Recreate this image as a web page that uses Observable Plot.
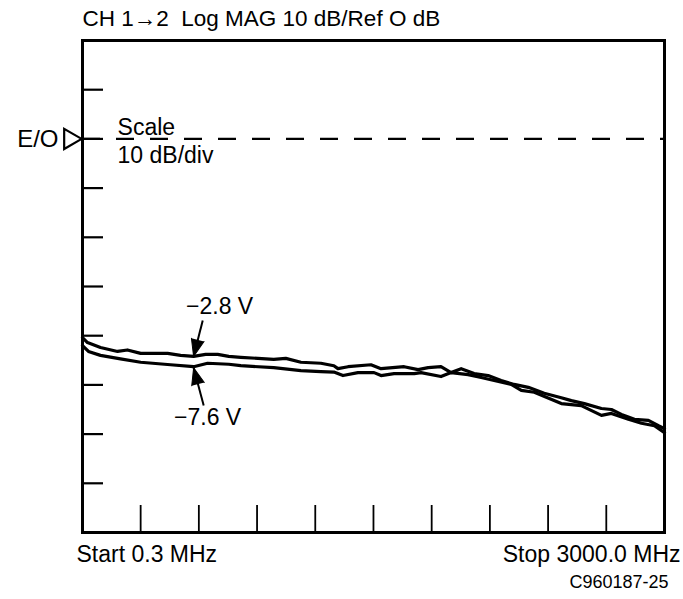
<!DOCTYPE html>
<html>
<head>
<meta charset="utf-8">
<script src="https://cdn.jsdelivr.net/npm/d3@7"></script>
<script src="https://cdn.jsdelivr.net/npm/@observablehq/plot@0.6"></script>
<style>
  html, body { margin: 0; padding: 0; background: #fff; }
</style>
</head>
<body>
<div id="chart"></div>
<script>
// ---- Data (frequency in MHz, magnitude in dB) ----
const freqUpper = [0.3, 26, 93, 181, 232, 300, 439, 506, 573, 635, 697, 754, 816, 986, 1048, 1126, 1229, 1296, 1317, 1369, 1487, 1539, 1658, 1730, 1782, 1848, 1900, 1952, 2019, 2091, 2158, 2225, 2298, 2380, 2468, 2520, 2587, 2675, 2726, 2778, 2845, 2917, 2969, 3000];
const dbUpper = [-40.4, -41.4, -42.4, -43.2, -42.9, -43.6, -43.6, -44.0, -44.2, -43.8, -43.8, -44.2, -44.4, -44.8, -44.6, -45.4, -45.6, -46.1, -46.7, -46.3, -45.9, -46.7, -46.3, -46.9, -46.5, -46.3, -47.5, -46.7, -47.7, -48.1, -49.1, -49.9, -50.5, -51.7, -52.6, -53.2, -53.8, -54.8, -55.0, -56.0, -57.0, -57.2, -58.3, -58.9];

const freqLower = [0.3, 31, 93, 196, 300, 454, 573, 645, 754, 816, 986, 1126, 1229, 1296, 1343, 1420, 1503, 1539, 1606, 1710, 1745, 1848, 1900, 1988, 2055, 2122, 2210, 2262, 2329, 2468, 2571, 2675, 2726, 2814, 2881, 2948, 3000];
const dbLower = [-42.0, -43.2, -44.0, -44.7, -45.4, -45.9, -46.3, -45.6, -45.8, -46.1, -46.5, -47.1, -47.3, -47.4, -48.1, -47.5, -47.5, -48.1, -47.7, -47.7, -47.5, -48.3, -47.5, -47.9, -48.5, -49.1, -49.9, -51.1, -51.5, -53.8, -54.2, -56.2, -55.8, -57.0, -57.8, -58.3, -59.7];

// Axis ticks
const xTicks = [300, 600, 900, 1200, 1500, 1800, 2100, 2400, 2700];
const yTicks = [10, 0, -10, -20, -30, -40, -50, -60, -70];
const refLevel = [0];

// Texts
const titleText = "CH 1\u21922  Log MAG 10 dB/Ref O dB";
const startText = "Start 0.3 MHz";
const stopText = "Stop 3000.0 MHz";
const figId = "C960187-25";
const refLabel = "E/O";
const scaleTop = "Scale";
const scaleBottom = "10 dB/div";

// Annotations (MHz, dB)
const annLabels = ["\u22122.8 V", "\u22127.6 V"];
const annLabelX = [707, 645];
const annLabelY = [-34.0, -56.7];
const arrowTailX = [620, 625];
const arrowTailY = [-36.9, -54.2];
const arrowTipX = [573, 573];
const arrowTipY = [-44.2, -46.5];
const arrowAngle = [194, 345];

// ---- Build tables ----
const upper = freqUpper.map((f, i) => ({f, db: dbUpper[i]}));
const lower = freqLower.map((f, i) => ({f, db: dbLower[i]}));
const ann = annLabels.map((t, i) => ({
  t, lx: annLabelX[i], ly: annLabelY[i],
  x1: arrowTailX[i], y1: arrowTailY[i], x2: arrowTipX[i], y2: arrowTipY[i], a: arrowAngle[i]
}));

const font = "'Liberation Sans', Arial, Helvetica, sans-serif";

const chart = Plot.plot({
  width: 683,
  height: 599,
  marginTop: 40,
  marginBottom: 67,
  marginLeft: 82,
  marginRight: 19,
  style: {fontFamily: font, background: "#fff", color: "#000", overflow: "visible"},
  x: {type: "linear", domain: [0.3, 3000], axis: null},
  y: {type: "linear", domain: [-80, 20], axis: null},
  marks: [
    // reference dashed line
    Plot.ruleY(refLevel, {stroke: "#000", strokeWidth: 2.4, strokeDasharray: "18,16", strokeDashoffset: -34}),
    // inner ticks on left
    Plot.axisY({ticks: yTicks, anchor: "left", tickSize: 21, dx: 21, strokeWidth: 2.2, tickFormat: () => "", label: null}),
    // inner ticks on bottom
    Plot.axisX({ticks: xTicks, anchor: "bottom", tickSize: 27, dy: -27, strokeWidth: 1.8, tickFormat: () => "", label: null}),
    // traces
    Plot.line(upper, {x: "f", y: "db", stroke: "#000", strokeWidth: 3.2, strokeLinejoin: "round"}),
    Plot.line(lower, {x: "f", y: "db", stroke: "#000", strokeWidth: 3.2, strokeLinejoin: "round"}),
    // frame
    Plot.frame({stroke: "#000", strokeWidth: 3}),
    // reference marker
    Plot.dot(refLevel, {y: d => d, frameAnchor: "left", symbol: "triangle", rotate: 90, r: 7.5, dx: -12.5, fill: "#fff", stroke: "#000", strokeWidth: 2.2}),
    Plot.text([refLabel], {y: refLevel, frameAnchor: "left", dx: -24, textAnchor: "end", fontSize: 24}),
    // scale label
    Plot.text([scaleTop], {x: [181], y: refLevel, dy: -4, lineAnchor: "bottom", textAnchor: "start", fontSize: 23}),
    Plot.text([scaleBottom], {x: [181], y: refLevel, dy: 8, lineAnchor: "top", textAnchor: "start", fontSize: 23}),
    // annotations
    Plot.link(ann, {x1: "x1", y1: "y1", x2: "x2", y2: "y2", stroke: "#000", strokeWidth: 2}),
    Plot.vector(ann, {x: "x2", y: "y2", rotate: "a", length: 17, anchor: "end", shape: "spike", r: 6.5, fill: "#000", stroke: "#000", strokeWidth: 1}),
    Plot.text(ann, {x: "lx", y: "ly", text: "t", fontSize: 23, textAnchor: "middle"}),
    // title and footer texts
    Plot.text([titleText], {frameAnchor: "top-left", dy: -15, lineAnchor: "bottom", textAnchor: "start", fontSize: 22.5}),
    Plot.text([startText], {frameAnchor: "bottom-left", dx: -6, dy: 13, lineAnchor: "top", textAnchor: "start", fontSize: 23}),
    Plot.text([stopText], {frameAnchor: "bottom-right", dx: 16, dy: 13, lineAnchor: "top", textAnchor: "end", fontSize: 23}),
    Plot.text([figId], {frameAnchor: "bottom-right", dx: 4, dy: 43, lineAnchor: "top", textAnchor: "end", fontSize: 18})
  ]
});
document.getElementById("chart").appendChild(chart);
</script>
</body>
</html>
